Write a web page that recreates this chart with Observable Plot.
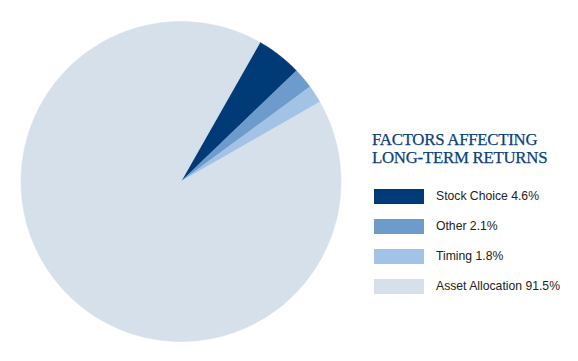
<!DOCTYPE html>
<html>
<head>
<meta charset="utf-8">
<script src="https://cdn.jsdelivr.net/npm/d3@7"></script>
<script src="https://cdn.jsdelivr.net/npm/@observablehq/plot@0.6"></script>
<style>
  html, body { margin: 0; padding: 0; background: #fff; }
  #wrap { position: relative; width: 578px; height: 361px; overflow: hidden; }
  #title { position: absolute; left: 372px; top: 131px; font-family: "Liberation Serif", "DejaVu Serif", serif; font-size: 16.8px; line-height: 18px; color: #0b3f7e; letter-spacing: -0.25px; -webkit-text-stroke: 0.25px #0b3f7e; }
  #legend { position: absolute; left: 374px; top: 189px; font-family: "Liberation Sans", Arial, sans-serif; font-size: 12.2px; color: #222; }
  .row { position: absolute; left: 0; height: 15px; white-space: nowrap; }
  .sw { position: absolute; left: 0; top: 0; width: 50px; height: 15px; }
  .lb { position: absolute; left: 62px; top: 0; line-height: 15px; }
</style>
</head>
<body>
<div id="wrap">
  <div id="chart"></div>
  <div id="title">FACTORS AFFECTING<br>LONG-TERM RETURNS</div>
  <div id="legend"></div>
</div>
<script>
const categories = ["Stock Choice", "Other", "Timing", "Asset Allocation"];
const values = [4.6, 2.1, 1.8, 91.5];
const colors = ["#003b78", "#6d9ccc", "#a2c3e6", "#d6e0ea"];
const legendLabels = ["Stock Choice 4.6%", "Other 2.1%", "Timing 1.8%", "Asset Allocation 91.5%"];

const W = 578, H = 361;
const cx = 180.5, cy = 181, R = 160;
const startDeg = 29.6;

// Build slice polygons from values
const total = d3.sum(values);
const pts = [];
let acc = 0;
categories.forEach((c, i) => {
  const a0 = startDeg + acc / total * 360;
  acc += values[i];
  const a1 = startDeg + acc / total * 360;
  const n = Math.max(2, Math.ceil((a1 - a0) / 0.5));
  pts.push({cat: c, x: 0, y: 0});
  for (let k = 0; k <= n; k++) {
    const a = (a0 + (a1 - a0) * k / n) * Math.PI / 180;
    pts.push({cat: c, x: Math.sin(a), y: Math.cos(a)});
  }
  pts.push({cat: c, x: 0, y: 0});
});

const chart = Plot.plot({
  width: W,
  height: H,
  margin: 0,
  x: {domain: [-cx / R, (W - cx) / R], axis: null},
  y: {domain: [-(H - cy) / R, cy / R], axis: null},
  color: {domain: categories, range: colors},
  marks: [
    Plot.line(pts, {x: "x", y: "y", z: "cat", fill: "cat", stroke: "cat", strokeWidth: 0.5, curve: "linear"})
  ]
});
document.getElementById("chart").appendChild(chart);

const legend = document.getElementById("legend");
legendLabels.forEach((t, i) => {
  const row = document.createElement("div");
  row.className = "row";
  row.style.top = (i * 30) + "px";
  row.innerHTML = `<div class="sw" style="background:${colors[i]}"></div><div class="lb">${t}</div>`;
  legend.appendChild(row);
});
</script>
</body>
</html>
